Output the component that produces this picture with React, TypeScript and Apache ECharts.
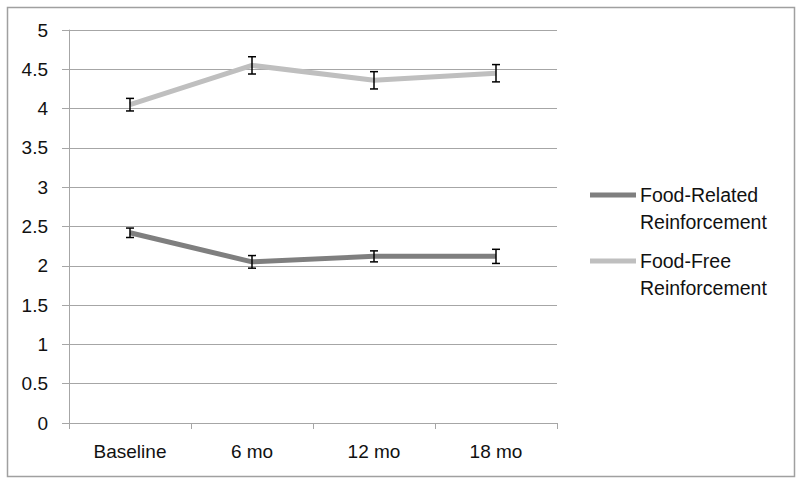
import React, { useEffect, useRef } from "react";
import * as echarts from "echarts";

const categories = ["Baseline", "6 mo", "12 mo", "18 mo"];
const foodRelated = [2.42, 2.05, 2.12, 2.12];
const foodRelatedErr = [0.06, 0.08, 0.07, 0.09];
const foodFree = [4.05, 4.55, 4.36, 4.45];
const foodFreeErr = [0.08, 0.11, 0.11, 0.11];
const yTicks = { min: 0, max: 5, interval: 0.5 };
const seriesNames = ["Food-Related\nReinforcement", "Food-Free\nReinforcement"];

const FONT = "Liberation Sans";

export default function App() {
  const ref = useRef<HTMLDivElement>(null);
  useEffect(() => {
    if (!ref.current) return;
    const chart = echarts.init(ref.current, null, { renderer: "svg" });
    const errData = (vals: number[], errs: number[]) =>
      vals.map((v, i) => [i, v - errs[i], v + errs[i]]);
    const renderErr = (params: any, api: any) => {
      const x = api.value(0);
      const lo = api.coord([x, api.value(1)]);
      const hi = api.coord([x, api.value(2)]);
      const hw = 4;
      const style = { stroke: "#000", lineWidth: 1.5 };
      return {
        type: "group",
        children: [
          { type: "line", shape: { x1: lo[0], y1: lo[1], x2: hi[0], y2: hi[1] }, style },
          { type: "line", shape: { x1: lo[0] - hw, y1: lo[1], x2: lo[0] + hw, y2: lo[1] }, style },
          { type: "line", shape: { x1: hi[0] - hw, y1: hi[1], x2: hi[0] + hw, y2: hi[1] }, style },
        ],
      };
    };
    chart.setOption({
      animation: false,
      backgroundColor: "#fff",
      grid: { left: 69, right: 243, top: 30, bottom: 62 },
      xAxis: {
        type: "category",
        data: categories,
        boundaryGap: true,
        axisLine: { lineStyle: { color: "#a6a6a6", width: 1 } },
        axisTick: { show: true, length: 6, lineStyle: { color: "#a6a6a6" } },
        axisLabel: { color: "#111", fontFamily: FONT, fontSize: 19, margin: 19 },
      },
      yAxis: {
        type: "value",
        min: yTicks.min,
        max: yTicks.max,
        interval: yTicks.interval,
        axisLine: { show: true, lineStyle: { color: "#a6a6a6", width: 1 } },
        axisTick: { show: true, length: 7, lineStyle: { color: "#a6a6a6" } },
        axisLabel: { color: "#111", fontFamily: FONT, fontSize: 19, margin: 21 },
        splitLine: { lineStyle: { color: "#a6a6a6", width: 1 } },
      },
      series: [
        {
          name: seriesNames[0],
          type: "line",
          data: foodRelated,
          symbol: "none",
          lineStyle: { color: "#7f7f7f", width: 5 },
          z: 2,
        },
        {
          name: seriesNames[1],
          type: "line",
          data: foodFree,
          symbol: "none",
          lineStyle: { color: "#bfbfbf", width: 5 },
          z: 2,
        },
        {
          type: "custom",
          renderItem: renderErr,
          data: errData(foodRelated, foodRelatedErr),
          z: 5,
        },
        {
          type: "custom",
          renderItem: renderErr,
          data: errData(foodFree, foodFreeErr),
          z: 5,
        },
      ],
      graphic: [
        {
          type: "rect",
          shape: { x: 7.5, y: 7.5, width: 787, height: 469 },
          style: { fill: "none", stroke: "#a0a0a0", lineWidth: 1.5 },
        },
        {
          type: "line",
          shape: { x1: 590, y1: 195, x2: 636, y2: 195 },
          style: { stroke: "#7f7f7f", lineWidth: 5 },
        },
        {
          type: "text",
          x: 640,
          y: 181,
          style: {
            text: seriesNames[0],
            fontFamily: FONT,
            fontSize: 19.5,
            lineHeight: 27,
            fill: "#111",
          },
        },
        {
          type: "line",
          shape: { x1: 590, y1: 261, x2: 636, y2: 261 },
          style: { stroke: "#bfbfbf", lineWidth: 5 },
        },
        {
          type: "text",
          x: 640,
          y: 247,
          style: {
            text: seriesNames[1],
            fontFamily: FONT,
            fontSize: 19.5,
            lineHeight: 27,
            fill: "#111",
          },
        },
      ],
    });
    return () => chart.dispose();
  }, []);
  return (
    <div
      ref={ref}
      style={{ position: "absolute", left: 0, top: 0, width: 800, height: 485 }}
    />
  );
}
